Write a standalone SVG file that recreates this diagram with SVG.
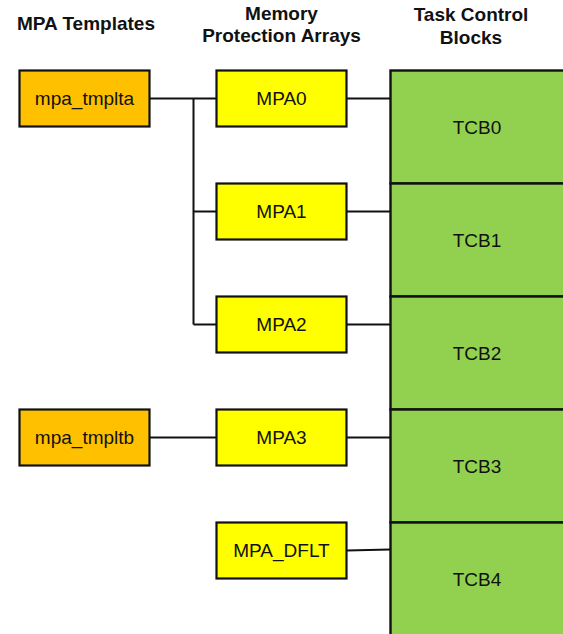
<svg xmlns="http://www.w3.org/2000/svg" width="563" height="634" viewBox="0 0 563 634">
<style>
.hdr{font-family:"Liberation Sans",Arial,sans-serif;font-weight:bold;font-size:19px;fill:#111;text-anchor:middle}
.lbl{font-family:"Liberation Sans",Arial,sans-serif;font-size:19px;fill:#111;text-anchor:middle}
.tpl{fill:#FFC000;stroke:#111;stroke-width:2.2}
.mpa{fill:#FFFF00;stroke:#111;stroke-width:2.2}
.tcb{fill:#92D050;stroke:#111;stroke-width:2.4}
.con{fill:none;stroke:#111;stroke-width:2}
</style>
<rect width="563" height="634" fill="#fff"/>
<g id="headers">
<text class="hdr" x="86" y="29.5">MPA Templates</text>
<text class="hdr" x="281.5" y="20">Memory</text>
<text class="hdr" x="281.5" y="42">Protection Arrays</text>
<text class="hdr" x="471" y="21">Task Control</text>
<text class="hdr" x="471" y="43.5">Blocks</text>
</g>
<g id="connectors">
<path class="con" d="M150 98.5H216M193.5 98.5V324.5M193.5 211.5H216M193.5 324.5H216"/>
<path class="con" d="M150 437.5H216"/>
<path class="con" d="M347 98.5H390M347 211.5H390M347 324.5H390M347 437.5H390M347 550.5L390 549.5"/>
</g>
<g id="tcb0"><rect class="tcb" x="390.5" y="70.5" width="200" height="113"/><text class="lbl" x="477" y="133.5">TCB0</text></g>
<g id="tcb1"><rect class="tcb" x="390.5" y="183.5" width="200" height="113"/><text class="lbl" x="477" y="246.5">TCB1</text></g>
<g id="tcb2"><rect class="tcb" x="390.5" y="296.5" width="200" height="113"/><text class="lbl" x="477" y="359.5">TCB2</text></g>
<g id="tcb3"><rect class="tcb" x="390.5" y="409.5" width="200" height="113"/><text class="lbl" x="477" y="472.5">TCB3</text></g>
<g id="tcb4"><rect class="tcb" x="390.5" y="522.5" width="200" height="113"/><text class="lbl" x="477" y="585.5">TCB4</text></g>
<g id="mpa_tmplta"><rect class="tpl" x="19.5" y="70.5" width="130" height="56"/><text class="lbl" x="84.5" y="105">mpa_tmplta</text></g>
<g id="mpa_tmpltb"><rect class="tpl" x="19.5" y="409.5" width="130" height="56"/><text class="lbl" x="84.5" y="444">mpa_tmpltb</text></g>
<g id="mpa0"><rect class="mpa" x="216.5" y="70.5" width="130" height="56"/><text class="lbl" x="281.5" y="105">MPA0</text></g>
<g id="mpa1"><rect class="mpa" x="216.5" y="183.5" width="130" height="56"/><text class="lbl" x="281.5" y="218">MPA1</text></g>
<g id="mpa2"><rect class="mpa" x="216.5" y="296.5" width="130" height="56"/><text class="lbl" x="281.5" y="331">MPA2</text></g>
<g id="mpa3"><rect class="mpa" x="216.5" y="409.5" width="130" height="56"/><text class="lbl" x="281.5" y="444">MPA3</text></g>
<g id="mpa_dflt"><rect class="mpa" x="216.5" y="522.5" width="130" height="56"/><text class="lbl" x="281.5" y="557">MPA_DFLT</text></g>
</svg>
